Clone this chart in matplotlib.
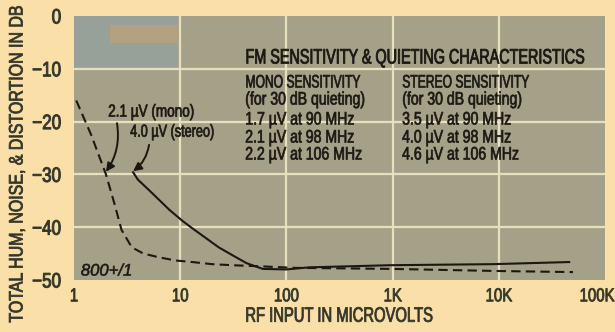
import matplotlib
matplotlib.use("Agg")
import matplotlib.pyplot as plt
from matplotlib.patches import Rectangle
from matplotlib.patheffects import AbstractPathEffect
from matplotlib.transforms import Affine2D, ScaledTranslation

# mono curve (dashed) and stereo curve (solid): RF input in uV vs dB
mono_uv = [1.05, 1.45, 2.0, 2.4, 2.8, 3.5, 4.5, 6.3, 9, 13, 20, 31, 56, 120, 1000, 10000, 50000]
mono_db = [-16.0, -22.5, -30.0, -35.5, -40.5, -43.8, -45.0, -45.7, -46.3, -46.6, -47.0,
           -47.2, -47.4, -47.7, -47.9, -48.3, -48.5]
stereo_uv = [3.6, 4.0, 5.1, 7.9, 10.5, 13, 23, 31, 42, 60, 100, 165, 940, 8800, 46000]
stereo_db = [-29.6, -31.0, -33.0, -36.7, -38.8, -40.2, -43.8, -45.3, -46.8, -47.9, -48.0,
             -47.6, -47.2, -47.0, -46.6]

x_ticks = [1, 10, 100, 1000, 10000, 100000]
x_labels = ["1", "10", "100", "1K", "10K", "100K"]
y_ticks = [0, -10, -20, -30, -40, -50]
y_labels = ["0", "\u221210", "\u221220", "\u221230", "\u221240", "\u221250"]

title = "FM SENSITIVITY & QUIETING CHARACTERISTICS"
mono_rows = ["MONO SENSITIVITY", "(for 30 dB quieting)", "1.7 \u00b5V at 90 MHz",
             "2.1 \u00b5V at 98 MHz", "2.2 \u00b5V at 106 MHz"]
stereo_rows = ["STEREO SENSITIVITY", "(for 30 dB quieting)", "3.5 \u00b5V at 90 MHz",
               "4.0 \u00b5V at 98 MHz", "4.6 \u00b5V at 106 MHz"]

BG = "#fae0a8"
PLOT_BG = "#a5a189"
GRID = "#e6e0bc"
INK = "#1a1812"
LABEL_INK = "#34362a"

plt.rcParams["font.family"] = ["Liberation Sans", "DejaVu Sans"]


class Narrow(AbstractPathEffect):
    """Squeeze glyph outlines horizontally (condensed face), with an optional
    outline stroke to thicken the letters."""

    def __init__(self, sx=0.8, anchor="left", bold=0.0):
        super().__init__()
        self.sx = sx
        self.anchor = anchor
        self.bold = bold

    def draw_path(self, renderer, gc, tpath, affine, rgbFace=None):
        ext = tpath.get_extents()
        pivot = {"left": ext.x0, "center": (ext.x0 + ext.x1) / 2, "right": ext.x1}[self.anchor]
        squeeze = Affine2D().translate(-pivot, 0).scale(self.sx, 1).translate(pivot, 0)
        gc0 = renderer.new_gc()
        gc0.copy_properties(gc)
        if self.bold and rgbFace is not None:
            gc0.set_linewidth(self.bold)
            gc0.set_foreground(rgbFace)
            gc0.set_joinstyle("round")
        renderer.draw_path(gc0, tpath, squeeze + affine, rgbFace)
        gc0.restore()


def narrow(txt, sx=0.8, anchor="left", bold=0.5):
    txt.set_path_effects([Narrow(sx, anchor, bold)])
    return txt


fig = plt.figure(figsize=(6.15, 3.32), dpi=100, facecolor=BG)
ax = fig.add_axes([74 / 615, 1 - 280 / 332, 531 / 615, 264 / 332])
ax.set_facecolor(PLOT_BG)
ax.set_xscale("log")
ax.set_xlim(1, 100000)
ax.set_ylim(-50, 0)

# faded print tint in the top left corner
ax.add_patch(Rectangle((0, 0.807), 0.194, 0.193, transform=ax.transAxes,
                       facecolor="#97a19a", edgecolor="none", zorder=0.5))
ax.add_patch(Rectangle((0.068, 0.898), 0.126, 0.068, transform=ax.transAxes,
                       facecolor="#b2a281", edgecolor="none", zorder=0.5))

for v in x_ticks[1:-1]:
    ax.axvline(v, color=GRID, lw=1.6, zorder=1)
for v in y_ticks[1:-1]:
    ax.axhline(v, color=GRID, lw=1.6, zorder=1)

ax.plot(mono_uv, mono_db, color=INK, lw=1.5, ls=(0, (4.5, 2.5)), zorder=3)
ax.plot(stereo_uv, stereo_db, color=INK, lw=1.5, zorder=3)

ax.set_xticks(x_ticks)
ax.set_xticklabels(x_labels)
ax.set_yticks(y_ticks)
ax.set_yticklabels(y_labels)
ax.minorticks_off()
ax.tick_params(length=0, colors=LABEL_INK)
ax.tick_params(axis="x", pad=6, labelsize=13.5)
ax.tick_params(axis="y", pad=9, labelsize=15)
for lbl in ax.get_xticklabels():
    narrow(lbl, 0.8, "center", 0.6)
for lbl in ax.get_yticklabels():
    narrow(lbl, 0.82, "right", 0.7)
# keep "100K" inside the figure
last = ax.get_xticklabels()[-1]
last.set_transform(last.get_transform() + ScaledTranslation(-0.08, 0, fig.dpi_scale_trans))
for s in ax.spines.values():
    s.set_visible(False)

narrow(ax.set_xlabel("RF INPUT IN MICROVOLTS", fontsize=15, color=LABEL_INK, labelpad=1),
       0.71, "center", 0.6)
narrow(fig.text(18 / 615, 1 - 164 / 332, "TOTAL HUM, NOISE, & DISTORTION IN DB",
                rotation=90, ha="center", va="center", fontsize=14, color=LABEL_INK),
       0.82, "center", 0.6)

# characteristics table
narrow(fig.text(245 / 615, 1 - 58 / 332, title, ha="left", va="center",
                fontsize=15, color=INK), 0.69, bold=0.6)
row_y = [83, 100, 120, 138, 155]
for ry, m, s in zip(row_y, mono_rows, stereo_rows):
    sx = 0.67 if m.isupper() else 0.78
    narrow(fig.text(245 / 615, 1 - ry / 332, m, ha="left", va="center",
                    fontsize=13, color=INK), sx)
    narrow(fig.text(402 / 615, 1 - ry / 332, s, ha="left", va="center",
                    fontsize=13, color=INK), sx)

# callouts to the 30 dB quieting points
arrow = dict(arrowstyle="-|>,head_length=0.5,head_width=0.25", color=INK, lw=1.4,
             shrinkA=0, shrinkB=0, connectionstyle="arc3,rad=-0.2")
narrow(ax.text(2.09, -18.2, "2.1 \u00b5V (mono)", fontsize=12.5, color=INK,
               ha="left", va="center"), 0.78)
ax.annotate("", xy=(mono_uv[2], mono_db[2] + 0.5), xytext=(2.54, -20.3),
            arrowprops=arrow)
narrow(ax.text(3.37, -22.0, "4.0 \u00b5V (stereo)", fontsize=12.5, color=INK,
               ha="left", va="center"), 0.73)
ax.annotate("", xy=(stereo_uv[0], stereo_db[0] + 0.2), xytext=(5.09, -24.4),
            arrowprops=arrow)

narrow(ax.text(1.16, -48.3, "800+/1", ha="left", va="center",
               fontsize=12, style="italic", color=INK), 1.0, bold=0.4)

fig.savefig("out.png", dpi=100, facecolor=BG)
